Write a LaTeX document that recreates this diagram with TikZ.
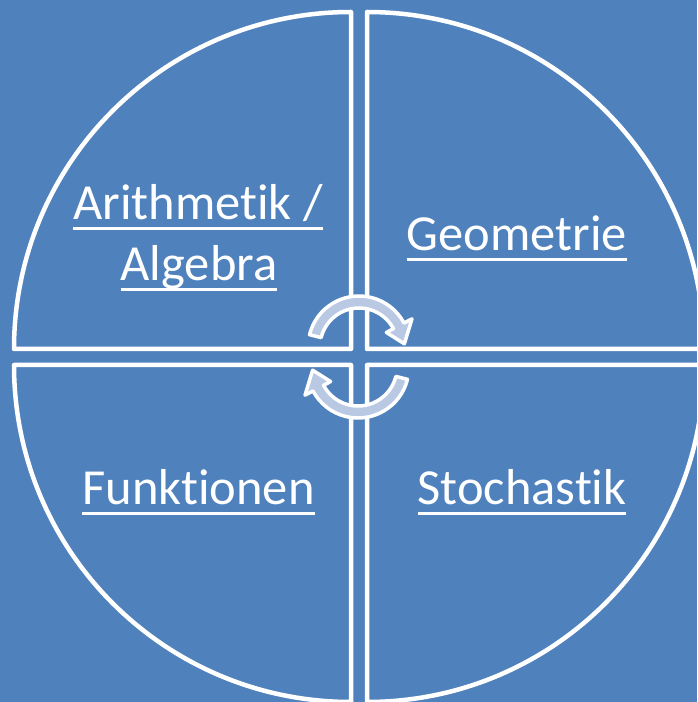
\documentclass[tikz,border=0pt]{standalone}
\usepackage{fontspec}
\setmainfont{Carlito}[Ligatures={NoCommon}]
\definecolor{bgblue}{HTML}{4F81BD}
\definecolor{arrowfill}{RGB}{185,201,228}
\newcommand\ulx[1]{\setbox0\hbox{#1}\rlap{\rule[-10.5pt]{\wd0}{3pt}}\box0}
\begin{document}
\begin{tikzpicture}[x=1pt,y=1pt,
  sector/.style={draw=white, line width=4.5pt, line join=round},
  lbl/.style={text=white, font=\fontsize{50.5}{61}\selectfont, anchor=base, inner sep=0pt},
  cyc/.style={fill=arrowfill, draw=white, line width=3.5pt, line join=round}]
\useasboundingbox (0,0) rectangle (697,702);
\fill[bgblue] (0,0) rectangle (697,702);
\begin{scope}
  \clip (0,0) rectangle (697,702);
  \draw[sector] (351,353) -- (351,690) arc[start angle=90,end angle=180,radius=337] -- cycle;
  \draw[sector] (367,353) -- (704,353) arc[start angle=0,end angle=90,radius=337] -- cycle;
  \draw[sector] (351,337) -- (14,337) arc[start angle=180,end angle=270,radius=337] -- cycle;
  \draw[sector] (367,337) -- (367,0) arc[start angle=270,end angle=360,radius=337] -- cycle;
\end{scope}
\begin{scope}[shift={(359,355)}]
  \filldraw[cyc] (166:51) arc[start angle=166,end angle=28,radius=51] -- (28:60) -- (4:45.5) -- (28:31) -- (28:39) arc[start angle=28,end angle=166,radius=39] -- cycle;
\end{scope}
\begin{scope}[shift={(358,335)},rotate=180]
  \filldraw[cyc] (166:51) arc[start angle=166,end angle=28,radius=51] -- (28:60) -- (4:45.5) -- (28:31) -- (28:39) arc[start angle=28,end angle=166,radius=39] -- cycle;
\end{scope}
\node[lbl] (arith) at (198,482) {\ulx{Arithmetik /}};
\node[lbl] (alg) at (199,421) {\ulx{Algebra}};
\node[lbl] (geo) at (517,451) {\ulx{Geometrie}};
\node[lbl] (funk) at (198.5,197) {\ulx{Funktionen}};
\node[lbl] (stoch) at (522,197) {\ulx{Stochastik}};
\end{tikzpicture}
\end{document}
